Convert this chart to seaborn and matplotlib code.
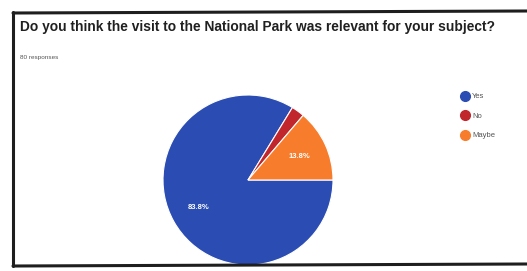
import matplotlib.pyplot as plt
import seaborn as sns
from matplotlib.lines import Line2D

sns.set_theme(style='white')
plt.rcParams['font.family'] = ['Liberation Sans', 'DejaVu Sans']

# 数据
title = 'Do you think the visit to the National Park was relevant for your subject?'
subtitle = '80 responses'
labels = ['Yes', 'No', 'Maybe']
counts = [67, 2, 11]
colors = ['#2b4db3', '#c0262c', '#f77d2c']

W, H = 527, 271
fig = plt.figure(figsize=(W / 100, H / 100), dpi=100)
fig.patch.set_facecolor('white')

# 外框（像素坐标转换）
def fx(px):
    return px / W

def fy(py):
    return 1 - py / H

border = dict(color='#1e1e1e', linewidth=2.2, transform=fig.transFigure)
fig.add_artist(Line2D([fx(13), fx(13)], [fy(12), fy(266)], **border))
fig.add_artist(Line2D([fx(13), fx(527)], [fy(13), fy(11)], **border))
fig.add_artist(Line2D([fx(13), fx(527)], [fy(266), fy(264)], **border))

fig.text(fx(20), fy(27), title, fontsize=9.9, fontweight='bold',
         color='#202020', va='center', ha='left')
fig.text(fx(20), fy(58), subtitle, fontsize=4.6, color='#555555',
         va='center', ha='left')

# 饼图
ax = fig.add_axes([fx(163), fy(265), fx(333) - fx(163), (265 - 95) / H])
wedges, texts, autotexts = ax.pie(
    counts, colors=colors, startangle=0, counterclock=False,
    autopct=lambda p: f'{p:.1f}%' if p > 5 else '', pctdistance=0.67,
    wedgeprops=dict(edgecolor='white', linewidth=0.8),
    textprops=dict(color='white', fontsize=5.5, fontweight='bold'))
ax.set_xlim(-1, 1)
ax.set_ylim(-1, 1)
ax.set_aspect('auto')
ax.axis('off')

# 图例
handles = [Line2D([0], [0], marker='o', linestyle='', markersize=7,
                  markerfacecolor=c, markeredgecolor=c) for c in colors]
fig.legend(handles, labels, loc='upper left', bbox_to_anchor=(fx(454), fy(86)),
           frameon=False, fontsize=5.5, labelcolor='#555555',
           handletextpad=0.3, labelspacing=1.6, handlelength=1.2)

plt.savefig('out.png', dpi=100)
plt.close()
